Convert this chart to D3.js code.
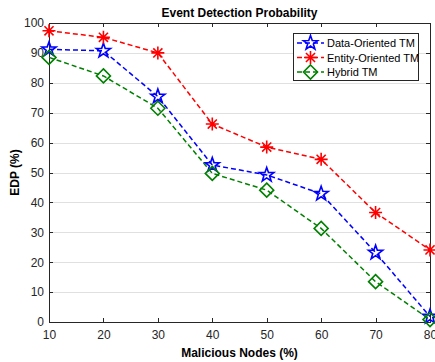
<!DOCTYPE html>
<meta charset="utf-8">
<style>
body { margin: 0; background: #fff; }
.axis text { font: 12px Arial, "Liberation Sans", sans-serif; fill: #262626; }
.axis path, .axis line { fill: none; stroke: #262626; shape-rendering: crispEdges; }
.grid line { stroke: #e0e0e0; shape-rendering: crispEdges; }
.label { font: bold 12px Arial, "Liberation Sans", sans-serif; fill: #000; }
.legend text { font: 11px Arial, "Liberation Sans", sans-serif; fill: #000; }
</style>
<body>
<script src="https://d3js.org/d3.v7.min.js"></script>
<script>
var nodes = [10, 20, 30, 40, 50, 60, 70, 80];
var dataOriented = [91.2, 90.7, 75.4, 52.5, 49.2, 42.9, 23.2, 1.8];
var entityOriented = [97.4, 95.2, 90.0, 66.2, 58.5, 54.4, 36.6, 24.1];
var hybrid = [88.5, 82.3, 71.5, 49.7, 44.1, 31.3, 13.5, 0.8];
var yTicks = [0, 10, 20, 30, 40, 50, 60, 70, 80, 90, 100];
var seriesNames = ["Data-Oriented TM", "Entity-Oriented TM", "Hybrid TM"];

var margin = {top: 23, right: 5, bottom: 40, left: 49},
    width = 435 - margin.left - margin.right,
    height = 362 - margin.top - margin.bottom;

var svg = d3.select("body").append("svg")
    .attr("width", 435)
    .attr("height", 362)
  .append("g")
    .attr("transform", "translate(" + margin.left + "," + margin.top + ")");

var x = d3.scaleLinear().domain([10, 80]).range([0, width]);
var y = d3.scaleLinear().domain([0, 100]).range([height, 0]);

// grid
svg.append("g").attr("class", "grid")
  .selectAll("line").data(yTicks.slice(1, -1)).enter().append("line")
    .attr("x1", 0).attr("x2", width)
    .attr("y1", function(d) { return Math.round(y(d)) + 0.5; })
    .attr("y2", function(d) { return Math.round(y(d)) + 0.5; });

// axes
svg.append("g").attr("class", "axis")
  .attr("transform", "translate(0," + height + ")")
  .call(d3.axisBottom(x).tickValues(nodes).tickSize(-4).tickPadding(8).tickSizeOuter(0));
svg.append("g").attr("class", "axis")
  .call(d3.axisTop(x).tickValues(nodes).tickSize(-4).tickFormat("").tickSizeOuter(0));
svg.append("g").attr("class", "axis")
  .call(d3.axisLeft(y).tickValues(yTicks).tickSize(-4).tickPadding(5).tickSizeOuter(0));
svg.append("g").attr("class", "axis")
  .attr("transform", "translate(" + width + ",0)")
  .call(d3.axisRight(y).tickValues(yTicks).tickSize(-4).tickFormat("").tickSizeOuter(0));

// titles
svg.append("text").attr("class", "label")
  .attr("x", width / 2).attr("y", -6).attr("text-anchor", "middle")
  .text("Event Detection Probability");
svg.append("text").attr("class", "label")
  .attr("x", width / 2).attr("y", height + 35).attr("text-anchor", "middle")
  .text("Malicious Nodes (%)");
svg.append("text").attr("class", "label")
  .attr("transform", "translate(-30," + (height / 2) + ") rotate(-90)")
  .attr("text-anchor", "middle")
  .text("EDP (%)");

var series = [
  {name: seriesNames[0], values: dataOriented, color: "#0000ff", marker: "star"},
  {name: seriesNames[1], values: entityOriented, color: "#ff0000", marker: "asterisk"},
  {name: seriesNames[2], values: hybrid, color: "#008000", marker: "diamond"}
];

function drawMarker(g, type, color) {
  if (type === "star") {
    var pts = [];
    for (var i = 0; i < 10; i++) {
      var r = i % 2 === 0 ? 7.5 : 3;
      var a = -Math.PI / 2 + i * Math.PI / 5;
      pts.push([r * Math.cos(a), r * Math.sin(a)]);
    }
    g.append("path").attr("d", "M" + pts.join("L") + "Z")
      .attr("fill", "none").attr("stroke", color).attr("stroke-width", 1.6);
  } else if (type === "asterisk") {
    var r2 = 6.5;
    var p = "M0," + (-r2) + "V" + r2 + "M" + (-r2) + ",0H" + r2 +
      "M" + (-r2 * 0.7) + "," + (-r2 * 0.7) + "L" + (r2 * 0.7) + "," + (r2 * 0.7) +
      "M" + (-r2 * 0.7) + "," + (r2 * 0.7) + "L" + (r2 * 0.7) + "," + (-r2 * 0.7);
    g.append("path").attr("d", p).attr("fill", "none")
      .attr("stroke", color).attr("stroke-width", 1.6);
  } else {
    var r3 = 7;
    g.append("path").attr("d", "M0," + (-r3) + "L" + r3 + ",0L0," + r3 + "L" + (-r3) + ",0Z")
      .attr("fill", "none").attr("stroke", color).attr("stroke-width", 1.6);
  }
}

var line = d3.line()
  .x(function(d, i) { return x(nodes[i]); })
  .y(function(d) { return y(d); });

series.forEach(function(s) {
  svg.append("path").datum(s.values)
    .attr("d", line)
    .attr("fill", "none")
    .attr("stroke", s.color)
    .attr("stroke-width", 1.5)
    .attr("stroke-dasharray", "5,3");
  s.values.forEach(function(v, i) {
    var g = svg.append("g").attr("transform", "translate(" + x(nodes[i]) + "," + y(v) + ")");
    drawMarker(g, s.marker, s.color);
  });
});

// legend
var legend = svg.append("g").attr("class", "legend")
  .attr("transform", "translate(" + (293 - margin.left) + "," + (33 - margin.top) + ")");
legend.append("rect")
  .attr("x", 0.5).attr("y", 0.5).attr("width", 125).attr("height", 47)
  .attr("fill", "#fff").attr("stroke", "#262626");
series.forEach(function(s, i) {
  var row = legend.append("g").attr("transform", "translate(0," + (10 + i * 14.5) + ")");
  row.append("line").attr("x1", 4).attr("x2", 31).attr("y1", 0).attr("y2", 0)
    .attr("stroke", s.color).attr("stroke-width", 1.5).attr("stroke-dasharray", "5,3");
  drawMarker(row.append("g").attr("transform", "translate(17.5,0)"), s.marker, s.color);
  row.append("text").attr("x", 34).attr("y", 4).text(s.name);
});
</script>
</body>
